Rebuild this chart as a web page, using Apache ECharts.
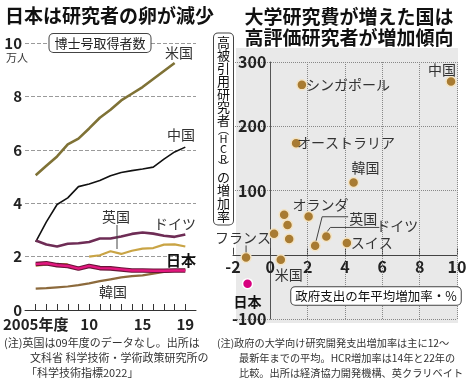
<!DOCTYPE html>
<html><head><meta charset="utf-8">
<script src="https://cdn.jsdelivr.net/npm/echarts@6/dist/echarts.min.js"></script>
<style>html,body{margin:0;padding:0;background:#fff}#c{width:474px;height:384px}</style>
</head><body><div id="c"></div>
<script>
// ---- Left chart: 博士号取得者数 (万人) ----
const years = [2005,2006,2007,2008,2009,2010,2011,2012,2013,2014,2015,2016,2017,2018,2019];
const usa     = [5.05,5.4,5.75,6.2,6.42,6.8,7.2,7.5,7.85,8.1,8.35,8.65,8.95,9.25,null];
const china   = [2.55,3.3,3.95,4.2,4.62,4.72,4.85,5.03,5.15,5.22,5.28,5.35,5.65,5.92,6.1];
const germany = [2.6,2.45,2.38,2.48,2.5,2.55,2.68,2.68,2.75,2.85,2.9,2.86,2.78,2.74,2.83];
const uk      = [1.66,1.7,1.72,1.72,null,2.0,2.05,2.2,2.1,2.22,2.3,2.32,2.45,2.46,2.38];
const japan   = [1.72,1.75,1.68,1.65,1.55,1.65,1.57,1.56,1.52,1.48,1.48,1.47,1.47,1.48,1.48];
const korea   = [0.8,0.82,0.85,0.88,0.93,1.0,1.08,1.15,1.22,1.27,1.3,1.36,1.43,1.47,1.5];
const leftXLabels = [2005,2010,2015,2019];

// ---- Right chart: 政府支出の年平均増加率(%) vs HCR増加率(%) ----
const countries = ['中国','シンガポール','オーストラリア','韓国','オランダ','英国','ドイツ','スイス','米国','フランス','','','',''];
const govGrowth = [9.68,1.69,1.38,4.46,2.05,2.4,3.0,4.1,0.56,-1.3,0.74,0.92,0.2,1.01];
const hcrGrowth = [269.5,264.4,173.7,112.4,59.6,14,28.5,18.2,-7.8,-4.2,62.2,46.2,32.7,24.4];
const japanName = '日本';
const japanGov = -1.22;
const japanHcr = -45;
const rightGridX = [2,4,6,8,10];
const rxMin = -2, rxMax = 10, ryMin = -100, ryMax = 300;

const FF = '"Noto Sans CJK JP", "Noto Sans", sans-serif';
const labelOffsets = {
  '中国':[-9,-12], 'シンガポール':[46,0], 'オーストラリア':[50,0], '韓国':[12,-15],
  'オランダ':[12,-12], '英国':[48,-27], 'ドイツ':[71,-11], 'スイス':[25,0],
  '米国':[8,15], 'フランス':[-3,-20]
};

function pairs(arr){ return years.map((y,i)=>[y, arr[i]]); }

const scatterData = countries.map((n,i)=>{
  const o = {name:n, value:[govGrowth[i], hcrGrowth[i]]};
  if (n && labelOffsets[n]) {
    o.label = {show:true, position:'inside', offset:labelOffsets[n], formatter:n,
      color:'#333', fontSize:14, fontFamily:FF, textBorderWidth:0};
  }
  return o;
});

// right grid geometry
const RG = {left:233, right:17, top:62, bottom:65};
const rgW = 474 - RG.left - RG.right, rgH = 384 - RG.top - RG.bottom;
const yAxisShift = -rgW * (0 - rxMin) / (rxMax - rxMin);   // move y axis to x=0
const xAxisShift = -rgH * (0 - ryMin) / (ryMax - ryMin);   // move x axis to y=0

const chart = echarts.init(document.getElementById('c'), null, {renderer:'canvas'});

const option = {
  animation:false,
  textStyle:{fontFamily:FF},
  grid:[
    {left:24, right:278, top:43, bottom:74},
    RG
  ],
  xAxis:[
    {gridIndex:0, type:'value', min:2004, max:2020,
     axisLine:{show:true, lineStyle:{color:'#333', width:1}},
     axisTick:{show:true, inside:true, length:6, customValues:years, lineStyle:{color:'#333'}},
     axisLabel:{show:true, customValues:leftXLabels, margin:7, color:'#222', fontSize:15, fontWeight:'bold',
       formatter:v=> v===2005 ? '2005年度' : String(v).slice(2)},
     splitLine:{show:false}},
    {gridIndex:1, type:'value', min:rxMin, max:rxMax, interval:2, position:'bottom', offset:xAxisShift,
     axisLine:{show:true, onZero:false, lineStyle:{color:'#444', width:1}},
     axisTick:{show:true, inside:true, length:7, lineStyle:{color:'#444'}},
     axisLabel:{margin:4, color:'#222', fontSize:16, fontWeight:'bold'},
     splitLine:{show:false}}
  ],
  yAxis:[
    {gridIndex:0, type:'value', min:0, max:10, interval:2,
     axisLine:{show:false}, axisTick:{show:false},
     axisLabel:{margin:3, color:'#222', fontSize:15, fontWeight:'bold'},
     splitLine:{show:true, lineStyle:{type:'dashed', color:'#9a9a9a', width:1}}},
    {gridIndex:1, type:'value', min:ryMin, max:ryMax, interval:100, position:'left', offset:yAxisShift,
     axisLine:{show:true, onZero:false, lineStyle:{color:'#555', width:1}},
     axisTick:{show:false},
     axisLabel:{margin:4, color:'#222', fontSize:16, fontWeight:'bold', formatter:v=> v===0 ? '' : String(v)},
     splitLine:{show:true, lineStyle:{type:'dotted', color:'#888', width:1}}}
  ],
  series:[
    {type:'line', name:'米国', xAxisIndex:0, yAxisIndex:0, data:pairs(usa), showSymbol:false, lineStyle:{color:'#7f7236', width:2.6}},
    {type:'line', name:'中国', xAxisIndex:0, yAxisIndex:0, data:pairs(china), showSymbol:false, lineStyle:{color:'#111', width:1.6}},
    {type:'line', name:'ドイツ', xAxisIndex:0, yAxisIndex:0, data:pairs(germany), showSymbol:false, lineStyle:{color:'#6e2c55', width:2.6}},
    {type:'line', name:'英国', xAxisIndex:0, yAxisIndex:0, data:pairs(uk), showSymbol:false, connectNulls:false, lineStyle:{color:'#c9a445', width:2.2}},
    {type:'line', name:'韓国', xAxisIndex:0, yAxisIndex:0, data:pairs(korea), showSymbol:false, lineStyle:{color:'#8c6a3c', width:2.2}},
    {type:'line', name:'日本枠', xAxisIndex:0, yAxisIndex:0, data:pairs(japan), showSymbol:false, lineStyle:{color:'#6a1538', width:4.6}},
    {type:'line', name:'日本', xAxisIndex:0, yAxisIndex:0, data:pairs(japan), showSymbol:false, lineStyle:{color:'#e3177f', width:2.4}},
    {type:'scatter', name:'各国', xAxisIndex:1, yAxisIndex:1, data:scatterData, symbolSize:10, z:5,
     itemStyle:{color:'#a87b32', borderColor:'#f4e4c4', borderWidth:1.5, opacity:1},
     markLine:{silent:true, symbol:['none','none'], label:{show:false}, z:1,
       lineStyle:{type:'dotted', color:'#888', width:1},
       data: rightGridX.map(v=>({xAxis:v}))}},
    {type:'scatter', name:japanName, xAxisIndex:1, yAxisIndex:1, data:[[japanGov, japanHcr]], symbolSize:10, z:5,
     itemStyle:{color:'#d7007f', borderColor:'#fff', borderWidth:1.5, opacity:1},
     label:{show:true, position:'inside', offset:[0,18], formatter:japanName, color:'#111', fontSize:14, fontWeight:'bold', fontFamily:FF}}
  ]
};
chart.setOption(option);

// leader lines anchored to data points
function px(name){
  const i = countries.indexOf(name);
  return chart.convertToPixel({gridIndex:1}, [govGrowth[i], hcrGrowth[i]]);
}
const pUK = px('英国'), pDE = px('ドイツ'), pFR = px('フランス');
const lineStyle = {stroke:'#444', lineWidth:1, fill:null};

function txt(x,y,text,opt){
  opt = opt||{};
  return {type:'text', x:x, y:y, z:opt.z||50, style:Object.assign({text:text, fill:'#333',
    font:(opt.bold?'bold ':'')+(opt.size||14)+'px '+FF, align:opt.align||'center', verticalAlign:'middle'}, opt.style||{})};
}

const vChars = [['c','高'],['c','被'],['c','引'],['c','用'],['c','研'],['c','究'],['c','者'],['p','︵'],['l','H'],['l','C'],['l','R'],['p','︶'],['c','の'],['c','増'],['c','加'],['c','率']];
const vText = vChars.map(d=>'{'+d[0]+'|'+d[1]+'}').join('\n');

const graphics = [
  {type:'rect', z:-10, zlevel:0, shape:{x:236, y:48, width:222, height:275}, style:{fill:'#e9e9e9'}, silent:true},
  // titles
  txt(5,16,'日本は研究者の卵が減少',{bold:true,size:19,align:'left',style:{fill:'#111'}}),
  txt(349,17,'大学研究費が増えた国は',{bold:true,size:19,style:{fill:'#111'}}),
  txt(349,38,'高評価研究者が増加傾向',{bold:true,size:19,style:{fill:'#111'}}),
  // left annotations
  txt(100,43,'博士号取得者数',{size:13,style:{fill:'#222',backgroundColor:'#fff',borderColor:'#444',borderWidth:1,borderRadius:4,padding:[3,5,2,5]}}),
  txt(17,58,'万人',{size:11,style:{fill:'#333'}}),
  txt(179,53,'米国'),
  txt(181,135,'中国'),
  txt(116,217,'英国'),
  txt(175,224,'ドイツ'),
  txt(181,260,'日本',{bold:true,size:15,style:{fill:'#111'}}),
  txt(113,292,'韓国'),
  {type:'line', z:50, shape:{x1:117,y1:225,x2:117,y2:249}, style:{stroke:'#444',lineWidth:1}},
  // right axis name boxes
  {type:'text', x:223.5, y:129, z:50, style:{text:vText, align:'center', verticalAlign:'middle', fill:'#111',
    rich:{c:{fontSize:13, lineHeight:13, fontFamily:FF, fill:'#111'}, l:{fontSize:11, lineHeight:10, fontFamily:FF, fill:'#111'}, p:{fontSize:11, lineHeight:7, fontFamily:FF, fill:'#111'}},
    backgroundColor:'#fff', borderColor:'#444', borderWidth:1, borderRadius:4, padding:[2,3,2,3]}},
  txt(376,296,'政府支出の年平均増加率・%',{size:12.5,style:{fill:'#111',backgroundColor:'#fff',borderColor:'#444',borderWidth:1,borderRadius:4,padding:[3,4,2,4]}}),
  // leader lines
  {type:'polyline', z:50, shape:{points:[[pUK[0]+1,pUK[1]-5],[pUK[0]+7,pUK[1]-29],[pUK[0]+33,pUK[1]-29]]}, style:lineStyle},
  {type:'polyline', z:50, shape:{points:[[pDE[0]+1,pDE[1]-5],[pDE[0]+4,pDE[1]-9],[pDE[0]+53,pDE[1]-9]]}, style:lineStyle},
  {type:'polyline', z:50, shape:{points:[[pFR[0],pFR[1]-12],[pFR[0],pFR[1]-5]]}, style:lineStyle},
  // notes
  txt(4,343,'(注)英国は09年度のデータなし。出所は',{size:11,align:'left',style:{fill:'#333'}}),
  txt(30,358,'文科省 科学技術・学術政策研究所の',{size:11,align:'left',style:{fill:'#333'}}),
  txt(26,373,'「科学技術指標2022」',{size:11,align:'left',style:{fill:'#333'}}),
  txt(217,343,'(注)政府の大学向け研究開発支出増加率は主に12～',{size:10.2,align:'left',style:{fill:'#333'}}),
  txt(239,358,'最新年までの平均。HCR増加率は14年と22年の',{size:10.2,align:'left',style:{fill:'#333'}}),
  txt(239,373,'比較。出所は経済協力開発機構、英クラリベイト',{size:10.2,align:'left',style:{fill:'#333'}})
];
chart.setOption({graphic:graphics});
</script>
</body></html>
